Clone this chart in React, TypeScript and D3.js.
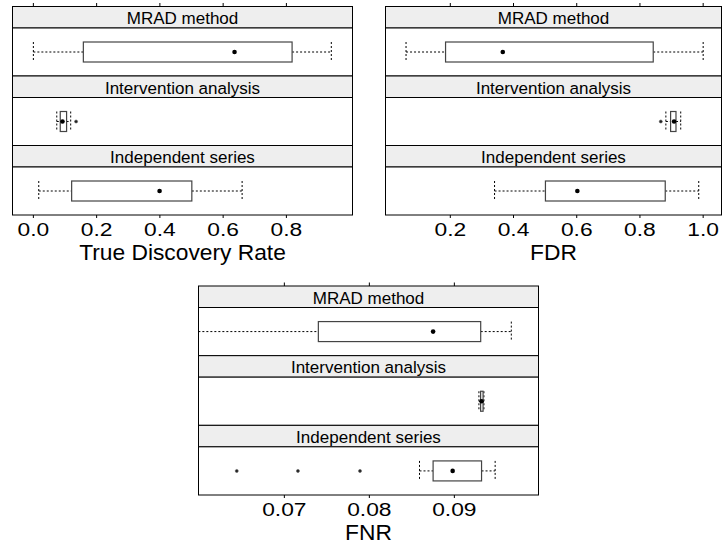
import * as d3 from "d3";

const groups = ["MRAD method", "Intervention analysis", "Independent series"];

// each row: [lower whisker, Q1, median, Q3, upper whisker]
const tdrStats = [
	[0.0, 0.158, 0.636, 0.818, 0.942],
	[0.074, 0.085, 0.092, 0.105, 0.118],
	[0.017, 0.121, 0.399, 0.501, 0.66],
];
const tdrOutliers = [[], [0.135], []];
const tdrTicks = [0, 0.2, 0.4, 0.6, 0.8];

const fdrStats = [
	[0.06, 0.185, 0.366, 0.842, 1.0],
	[0.882, 0.897, 0.908, 0.914, 0.929],
	[0.34, 0.501, 0.602, 0.88, 0.986],
];
const fdrOutliers = [[], [0.866], []];
const fdrTicks = [0.2, 0.4, 0.6, 0.8, 1.0];

const fnrStats = [
	[0.058, 0.074, 0.0875, 0.0931, 0.0967],
	[0.09289, 0.09309, 0.0932, 0.09338, 0.09348],
	[0.0859, 0.0875, 0.0898, 0.0932, 0.0948],
];
const fnrOutliers = [[], [], [0.0644, 0.0716, 0.0789]];
const fnrTicks = [0.07, 0.08, 0.09];

const FONT = "'Liberation Sans', Arial, Helvetica, sans-serif";

interface PanelProps {
	id: string;
	left: number;
	right: number;
	top: number;
	bottom: number;
	domain: [number, number];
	ticks: number[];
	fmt: (v: number) => string;
	title: string;
	stats: number[][];
	outliers: number[][];
}

// glyphs in the reference are a bit wider than plain Arial, so stretch them
function Label({ x, y, size, sx, text }: { x: number; y: number; size: number; sx: number; text: string }) {
	return (
		<text
			transform={`translate(${x},${y}) scale(${sx},1)`}
			textAnchor="middle"
			fontSize={size}
			fontFamily={FONT}
			fill="#000"
		>
			{text}
		</text>
	);
}

function BoxPanel({ id, left, right, top, bottom, domain, ticks, fmt, title, stats, outliers }: PanelProps) {
	const x = d3.scaleLinear().domain(domain).range([left, right]);
	const rows = d3
		.scaleBand<number>()
		.domain(d3.range(groups.length))
		.range([top, bottom]);
	const rowH = rows.bandwidth();
	const stripH = 21.5;
	const boxHalf = 10;

	return (
		<g>
			<defs>
				<clipPath id={id}>
					<rect x={left} y={top} width={right - left} height={bottom - top} />
				</clipPath>
			</defs>
			{groups.map((g, i) => {
				const y0 = rows(i)!;
				const cy = y0 + stripH + (rowH - stripH) / 2;
				const [lo, q1, med, q3, hi] = stats[i];
				return (
					<g key={g}>
						<rect x={left} y={y0} width={right - left} height={stripH} fill="#eeeeee" stroke="#000" />
						<Label x={(left + right) / 2} y={y0 + 17.8} size={16.3} sx={1.045} text={g} />
						<rect x={left} y={y0 + stripH} width={right - left} height={rowH - stripH} fill="#fff" stroke="#000" />
						<g clipPath={`url(#${id})`}>
							<line x1={x(lo)} x2={x(q1)} y1={cy} y2={cy} stroke="#000" strokeDasharray="2,2" />
							<line x1={x(q3)} x2={x(hi)} y1={cy} y2={cy} stroke="#000" strokeDasharray="2,2" />
							<line x1={x(lo)} x2={x(lo)} y1={cy - boxHalf} y2={cy + boxHalf} stroke="#000" strokeDasharray="2,2" />
							<line x1={x(hi)} x2={x(hi)} y1={cy - boxHalf} y2={cy + boxHalf} stroke="#000" strokeDasharray="2,2" />
							<rect
								x={x(q1)}
								y={cy - boxHalf}
								width={Math.max(x(q3) - x(q1), 0.5)}
								height={boxHalf * 2}
								fill="#fff"
								stroke="#444"
								strokeWidth={1.2}
							/>
							<circle cx={x(med)} cy={cy} r={2.3} fill="#000" />
							{outliers[i].map((o, k) => (
								<circle key={k} cx={x(o)} cy={cy} r={1.5} fill="#222" stroke="#555" strokeWidth={0.6} />
							))}
						</g>
					</g>
				);
			})}
			{ticks.map((t) => (
				<g key={t}>
					<line x1={x(t)} x2={x(t)} y1={top - 3.5} y2={top} stroke="#000" />
					<line x1={x(t)} x2={x(t)} y1={bottom} y2={bottom + 3} stroke="#000" />
					<Label x={x(t)} y={bottom + 21.3} size={19} sx={1.2} text={fmt(t)} />
				</g>
			))}
			<Label x={(left + right) / 2} y={bottom + 44.5} size={21.5} sx={1.06} text={title} />
		</g>
	);
}

export default function App() {
	const f1 = d3.format(".1f");
	const f2 = d3.format(".2f");
	return (
		<svg
			width={722}
			height={544}
			style={{ position: "absolute", left: 0, top: 0, background: "#fff" }}
		>
			<BoxPanel
				id="clip-tdr"
				left={12.5}
				right={352.5}
				top={6.5}
				bottom={215}
				domain={[-0.066, 1.009]}
				ticks={tdrTicks}
				fmt={f1}
				title="True Discovery Rate"
				stats={tdrStats}
				outliers={tdrOutliers}
			/>
			<BoxPanel
				id="clip-fdr"
				left={385.5}
				right={721.5}
				top={6.5}
				bottom={215}
				domain={[-0.005, 1.058]}
				ticks={fdrTicks}
				fmt={f1}
				title="FDR"
				stats={fdrStats}
				outliers={fdrOutliers}
			/>
			<BoxPanel
				id="clip-fnr"
				left={198.5}
				right={538.5}
				top={286}
				bottom={495}
				domain={[0.0599, 0.0999]}
				ticks={fnrTicks}
				fmt={f2}
				title="FNR"
				stats={fnrStats}
				outliers={fnrOutliers}
			/>
		</svg>
	);
}
